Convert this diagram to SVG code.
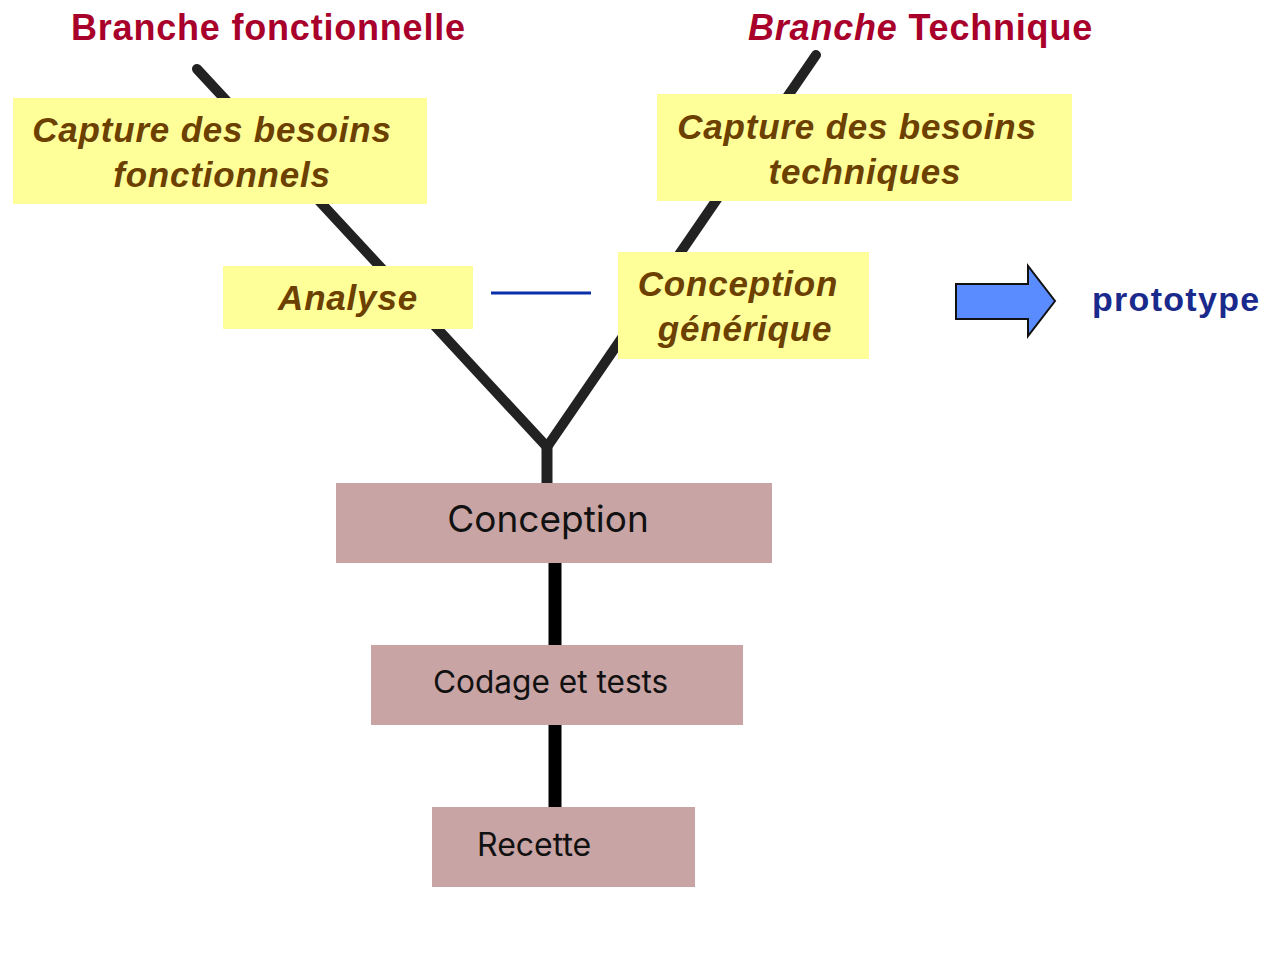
<svg xmlns="http://www.w3.org/2000/svg" width="1287" height="960" viewBox="0 0 1287 960">
<style>
.title{font-family:"Liberation Sans",Arial,sans-serif;font-weight:bold;font-size:36px;letter-spacing:0.8px;fill:#a8002a}
.yel{fill:#ffff99}
.ytxt{font-family:"Liberation Sans",Arial,sans-serif;font-weight:bold;font-style:italic;font-size:35px;letter-spacing:0.8px;fill:#6b4000;text-anchor:middle}
.pink{fill:#c8a4a4}
.ptxt{font-family:Inter,"Noto Sans",sans-serif;fill:#111}
.branch{stroke:#222;stroke-width:10;fill:none;stroke-linecap:round}
.stem{stroke:#000;stroke-width:13;fill:none}
</style>
<rect width="1287" height="960" fill="#fff"/>
<text class="title" x="71" y="40">Branche fonctionnelle</text>
<text class="title" x="748" y="40"><tspan font-style="italic">Branche</tspan> Technique</text>
<g id="connectors">
<path class="branch" d="M197,69 L547,447 L816,55"/>
<path d="M547,445 V484" stroke="#222" stroke-width="11"/>
<path class="stem" d="M555,563 V646"/>
<path class="stem" d="M555,725 V808"/>
<path d="M491,293 H591" stroke="#0a2fa8" stroke-width="3"/>
</g>
<g id="capture-fonctionnels">
<rect class="yel" x="13" y="98" width="414" height="106"/>
<text class="ytxt" x="212" y="142">Capture des besoins</text>
<text class="ytxt" x="222" y="187">fonctionnels</text>
</g>
<g id="capture-techniques">
<rect class="yel" x="657" y="94" width="415" height="107"/>
<text class="ytxt" x="857" y="139">Capture des besoins</text>
<text class="ytxt" x="865" y="184">techniques</text>
</g>
<g id="analyse">
<rect class="yel" x="223" y="266" width="250" height="63"/>
<text class="ytxt" x="348" y="310">Analyse</text>
</g>
<g id="conception-generique">
<rect class="yel" x="618" y="252" width="251" height="107"/>
<text class="ytxt" x="738" y="296">Conception</text>
<text class="ytxt" x="745" y="341">générique</text>
</g>
<g id="prototype">
<path d="M956,284 H1028 V266 L1055,301 L1028,336 V319 H956 Z" fill="#5b8cff" stroke="#111" stroke-width="2" stroke-linejoin="miter"/>
<text x="1092" y="311" font-family="'Liberation Sans',Arial,sans-serif" font-weight="bold" font-size="34" letter-spacing="1.3" fill="#1a2a8c">prototype</text>
</g>
<g id="conception">
<rect class="pink" x="336" y="483" width="436" height="80"/>
<text class="ptxt" x="548" y="532" font-size="37" text-anchor="middle">Conception</text>
</g>
<g id="codage">
<rect class="pink" x="371" y="645" width="372" height="80"/>
<text class="ptxt" x="433" y="693" font-size="31.6">Codage et tests</text>
</g>
<g id="recette">
<rect class="pink" x="432" y="807" width="263" height="80"/>
<text class="ptxt" x="477" y="856" font-size="32">Recette</text>
</g>
</svg>
